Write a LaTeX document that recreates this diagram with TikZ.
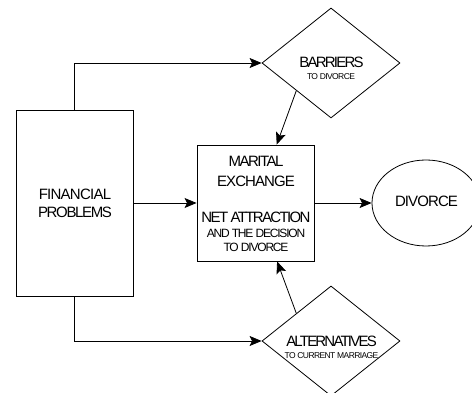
\documentclass[tikz,border=0pt]{standalone}
\usepackage{fontspec}
\setmainfont{Liberation Sans}
\usetikzlibrary{shapes.geometric,arrows.meta,calc}
\newcommand{\lsp}[2]{{\addfontfeature{LetterSpace=#1}#2}}
\begin{document}
\begin{tikzpicture}[x=1pt,y=1pt,
  boxstyle/.style={draw,line width=0.9pt,inner sep=0pt},
  diastyle/.style={draw,line width=0.8pt,shape=diamond,inner sep=0pt,minimum width=138pt,minimum height=110pt},
  conn/.style={line width=0.8pt,-{Stealth[length=12pt,width=10pt,inset=2.5pt]}},
  bigtxt/.style={inner sep=0pt,anchor=base,font=\fontsize{15}{17}\selectfont},
  midtxt/.style={inner sep=0pt,anchor=base,font=\fontsize{12}{14}\selectfont},
  smalltxt/.style={inner sep=0pt,anchor=base,font=\fontsize{8.5}{10}\selectfont}
]
\useasboundingbox (0,0) rectangle (472,393);
% nodes
\node[boxstyle,minimum width=117pt,minimum height=186pt] (fin) at (74.5,190) {};
\node[boxstyle,minimum width=117pt,minimum height=116pt] (mar) at (255.5,190) {};
\node[diastyle] (bar) at (331,330) {};
\node[diastyle] (alt) at (331,52) {};
\node[draw,line width=0.8pt,shape=ellipse,inner sep=0pt,minimum width=108pt,minimum height=86pt] (div) at (426,190) {};
% texts
\node[bigtxt] (fin1) at (75,193) {\lsp{-5}{FINANCIAL}};
\node[bigtxt] (fin2) at (75,175) {\lsp{-9}{PROBLEMS}};
\node[bigtxt] (mar1) at (256,226) {\lsp{-10}{MARITAL}};
\node[bigtxt] (mar2) at (256,206) {\lsp{-6}{EXCHANGE}};
\node[bigtxt] (mar3) at (256,170) {\lsp{-11}{NET ATTRACTION}};
\node[midtxt] (mar4) at (256,155) {\lsp{-10}{AND THE DECISION}};
\node[midtxt] (mar5) at (256,141) {\lsp{-10}{TO DIVORCE}};
\node[bigtxt] (bar1) at (331.5,325) {\lsp{-12}{BARRIERS}};
\node[smalltxt] (bar2) at (331,313) {\lsp{-7}{TO DIVORCE}};
\node[bigtxt] (alt1) at (331.5,46) {\lsp{-12}{ALTERNATIVES}};
\node[smalltxt] (alt2) at (331.5,34) {\lsp{-7}{TO CURRENT MARRIAGE}};
\node[bigtxt] (div1) at (426.5,186) {\lsp{-6}{DIVORCE}};
% connectors
\coordinate (barp) at ($(bar.west)!0.5!(bar.south)$);
\coordinate (altp) at ($(alt.west)!0.5!(alt.north)$);
\draw[conn] (fin.north) |- (bar.west);
\draw[conn] (fin.south) |- (alt.west);
\draw[conn] (fin) -- (mar);
\draw[conn] (mar) -- (div);
\draw[conn] (barp) -- (mar);
\draw[conn] (altp) -- (mar);
\end{tikzpicture}
\end{document}
